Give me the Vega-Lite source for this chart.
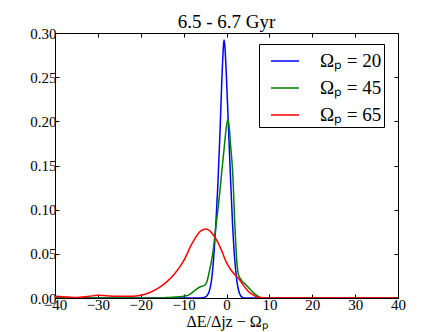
{
  "$schema": "https://vega.github.io/schema/vega-lite/v6.json",
  "width": 343,
  "height": 265,
  "autosize": {"type": "none"},
  "padding": {"left": 55, "top": 33, "right": 45, "bottom": 34},
  "background": "white",
  "title": {"text": "6.5 - 6.7 Gyr", "font": "Liberation Serif", "fontSize": 19, "fontWeight": "normal", "color": "black", "offset": 0, "dy": 6},
  "config": {
    "font": "Liberation Serif",
    "view": {"stroke": "black", "strokeWidth": 1},
    "axis": {"labelFont": "Liberation Serif", "labelFontSize": 15, "labelColor": "black", "titleFont": "Liberation Serif", "titleFontSize": 16, "titleFontWeight": "normal", "titleColor": "black", "domainColor": "black", "tickColor": "black", "grid": false, "tickSize": -4},
    "legend": {"labelFont": "Liberation Serif", "titleFont": "Liberation Serif"}
  },
  "data": {"values": [
    {"x": -40, "y": 0, "omega": 20}, {"x": -10, "y": 0, "omega": 20}, {"x": -6, "y": 0, "omega": 20}, {"x": -5, "y": 0.001, "omega": 20}, {"x": -4.5, "y": 0.003, "omega": 20}, {"x": -4, "y": 0.008, "omega": 20}, {"x": -3.5, "y": 0.02, "omega": 20}, {"x": -3, "y": 0.045, "omega": 20}, {"x": -2.5, "y": 0.082, "omega": 20}, {"x": -2, "y": 0.13, "omega": 20}, {"x": -1.5, "y": 0.19, "omega": 20}, {"x": -1.1, "y": 0.245, "omega": 20}, {"x": -0.8, "y": 0.278, "omega": 20}, {"x": -0.6, "y": 0.292, "omega": 20}, {"x": -0.4, "y": 0.286, "omega": 20}, {"x": -0.1, "y": 0.26, "omega": 20}, {"x": 0.4, "y": 0.2, "omega": 20}, {"x": 0.9, "y": 0.14, "omega": 20}, {"x": 1.4, "y": 0.085, "omega": 20}, {"x": 1.9, "y": 0.045, "omega": 20}, {"x": 2.4, "y": 0.02, "omega": 20}, {"x": 2.9, "y": 0.007, "omega": 20}, {"x": 3.4, "y": 0.002, "omega": 20}, {"x": 4, "y": 0, "omega": 20}, {"x": 10, "y": 0, "omega": 20}, {"x": 40, "y": 0, "omega": 20},
    {"x": -40, "y": 0, "omega": 45}, {"x": -16, "y": 0, "omega": 45}, {"x": -14, "y": 0.0005, "omega": 45}, {"x": -12, "y": 0.001, "omega": 45}, {"x": -10, "y": 0.002, "omega": 45}, {"x": -9, "y": 0.003, "omega": 45}, {"x": -8, "y": 0.006, "omega": 45}, {"x": -7, "y": 0.01, "omega": 45}, {"x": -6, "y": 0.013, "omega": 45}, {"x": -5.2, "y": 0.014, "omega": 45}, {"x": -4.6, "y": 0.018, "omega": 45}, {"x": -4, "y": 0.03, "omega": 45}, {"x": -3.5, "y": 0.042, "omega": 45}, {"x": -3, "y": 0.058, "omega": 45}, {"x": -2.5, "y": 0.08, "omega": 45}, {"x": -2, "y": 0.1, "omega": 45}, {"x": -1.5, "y": 0.123, "omega": 45}, {"x": -1, "y": 0.148, "omega": 45}, {"x": -0.5, "y": 0.172, "omega": 45}, {"x": 0, "y": 0.195, "omega": 45}, {"x": 0.3, "y": 0.202, "omega": 45}, {"x": 0.6, "y": 0.195, "omega": 45}, {"x": 1, "y": 0.17, "omega": 45}, {"x": 1.4, "y": 0.146, "omega": 45}, {"x": 2, "y": 0.077, "omega": 45}, {"x": 2.4, "y": 0.042, "omega": 45}, {"x": 2.8, "y": 0.026, "omega": 45}, {"x": 3.5, "y": 0.02, "omega": 45}, {"x": 4.5, "y": 0.015, "omega": 45}, {"x": 5.5, "y": 0.01, "omega": 45}, {"x": 6.5, "y": 0.005, "omega": 45}, {"x": 7.5, "y": 0.0015, "omega": 45}, {"x": 8.5, "y": 0, "omega": 45}, {"x": 40, "y": 0, "omega": 45},
    {"x": -40, "y": 0.002, "omega": 65}, {"x": -37, "y": 0.001, "omega": 65}, {"x": -35, "y": 0.0005, "omega": 65}, {"x": -32, "y": 0.002, "omega": 65}, {"x": -30, "y": 0.003, "omega": 65}, {"x": -28, "y": 0.0025, "omega": 65}, {"x": -25, "y": 0.002, "omega": 65}, {"x": -22, "y": 0.002, "omega": 65}, {"x": -20, "y": 0.003, "omega": 65}, {"x": -18, "y": 0.006, "omega": 65}, {"x": -16, "y": 0.011, "omega": 65}, {"x": -14, "y": 0.018, "omega": 65}, {"x": -12, "y": 0.028, "omega": 65}, {"x": -10, "y": 0.042, "omega": 65}, {"x": -8, "y": 0.062, "omega": 65}, {"x": -6, "y": 0.076, "omega": 65}, {"x": -4.8, "y": 0.078, "omega": 65}, {"x": -3.5, "y": 0.074, "omega": 65}, {"x": -2, "y": 0.063, "omega": 65}, {"x": -1, "y": 0.052, "omega": 65}, {"x": 0, "y": 0.04, "omega": 65}, {"x": 1, "y": 0.032, "omega": 65}, {"x": 2, "y": 0.026, "omega": 65}, {"x": 3, "y": 0.021, "omega": 65}, {"x": 4, "y": 0.014, "omega": 65}, {"x": 5, "y": 0.008, "omega": 65}, {"x": 6, "y": 0.004, "omega": 65}, {"x": 7, "y": 0.0015, "omega": 65}, {"x": 8, "y": 0.0005, "omega": 65}, {"x": 9, "y": 0, "omega": 65}, {"x": 40, "y": 0, "omega": 65}
  ]},
  "layer": [
    {
      "mark": {"type": "line", "interpolate": "monotone", "strokeWidth": 1.5, "clip": true},
      "encoding": {
        "x": {"field": "x", "type": "quantitative", "scale": {"domain": [-40, 40], "nice": false}, "axis": {"values": [-40, -30, -20, -10, 0, 10, 20, 30, 40], "title": "ΔE/Δjz − Ωₚ", "titlePadding": 1, "labelPadding": 3, "labelFlush": false}},
        "y": {"field": "y", "type": "quantitative", "scale": {"domain": [0, 0.3], "nice": false, "zero": true}, "axis": {"values": [0, 0.05, 0.1, 0.15, 0.2, 0.25, 0.3], "format": ".2f", "title": null, "labelPadding": 3, "labelFlush": false}},
        "color": {"field": "omega", "type": "nominal", "scale": {"domain": [20, 45, 65], "range": ["#0000ff", "#008000", "#ff0000"]},
          "legend": {"title": null, "orient": "none", "legendX": 204, "legendY": 11, "labelExpr": "'Ωₚ = ' + datum.label", "labelFont": "Liberation Serif", "labelFontSize": 19, "labelColor": "black", "symbolType": "stroke", "symbolSize": 784, "symbolStrokeWidth": 1.5, "symbolOffset": 9, "strokeColor": "black", "fillColor": "white", "padding": 2, "rowPadding": 2, "labelOffset": 20, "cornerRadius": 0}}
      }
    },
    {
      "mark": {"type": "line", "opacity": 0},
      "encoding": {
        "x": {"field": "x", "type": "quantitative", "scale": {"domain": [-40, 40], "nice": false}, "axis": {"orient": "top", "values": [-40, -30, -20, -10, 0, 10, 20, 30, 40], "labels": false, "title": null}},
        "y": {"field": "y", "type": "quantitative", "scale": {"domain": [0, 0.3], "nice": false}, "axis": {"orient": "right", "values": [0, 0.05, 0.1, 0.15, 0.2, 0.25, 0.3], "labels": false, "title": null}},
        "detail": {"field": "omega", "type": "nominal"}
      }
    }
  ],
  "resolve": {"axis": {"x": "independent", "y": "independent"}}
}
